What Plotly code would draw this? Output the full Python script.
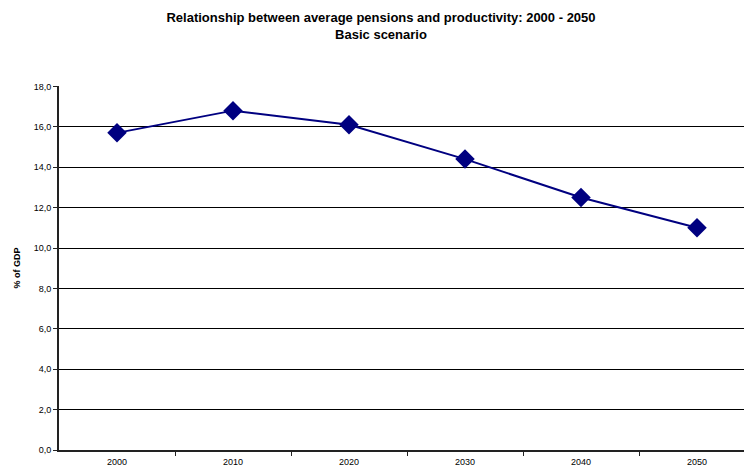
import plotly.graph_objects as go

years = [2000, 2010, 2020, 2030, 2040, 2050]
values = [15.7, 16.8, 16.1, 14.4, 12.5, 11.0]
year_labels = ["2000", "2010", "2020", "2030", "2040", "2050"]
y_ticks = [0, 2, 4, 6, 8, 10, 12, 14, 16, 18]

fig = go.Figure()
fig.add_trace(go.Scatter(
    x=years, y=values, mode="lines+markers",
    line=dict(color="#000080", width=2),
    marker=dict(symbol="diamond", size=15, color="#000080"),
    showlegend=False,
))

fig.update_layout(
    width=744, height=468,
    margin=dict(l=59, r=0, t=86, b=18),
    paper_bgcolor="white", plot_bgcolor="white",
    separators=",.",
    font=dict(family="Liberation Sans, Arial, sans-serif", size=9, color="black"),
    title=dict(
        text="<b>Relationship between average pensions and productivity: 2000 - 2050<br>Basic scenario</b>",
        x=381/744, xref="container", xanchor="center",
        y=1-22/468, yref="container", yanchor="top",
        font=dict(size=13, family="Liberation Sans, Arial, sans-serif", color="black"),
    ),
)

fig.update_xaxes(
    range=[1995, 1995 + (744-59)/116*10],
    tickmode="array", tickvals=years, ticktext=year_labels,
    ticks="", showgrid=False, zeroline=False, automargin=False,
    showline=True, linecolor="#222", linewidth=2,
    minor=dict(tickmode="array", tickvals=[2005, 2015, 2025, 2035, 2045],
               ticks="outside", ticklen=4, tickcolor="#222", showgrid=False),
    ticklabelstandoff=2,
    tickfont=dict(size=9),
)
fig.update_yaxes(
    range=[0, 18.02],
    tickmode="array", tickvals=y_ticks, tickformat=".1f",
    ticks="outside", ticklen=4, tickcolor="#222",
    showgrid=True, gridcolor="black", gridwidth=1,
    zeroline=False, showline=True, linecolor="#222", linewidth=2,
    title=dict(text="<b>% of GDP</b>", font=dict(size=9), standoff=12),
    tickfont=dict(size=9),
)

fig.write_html("out.html")
